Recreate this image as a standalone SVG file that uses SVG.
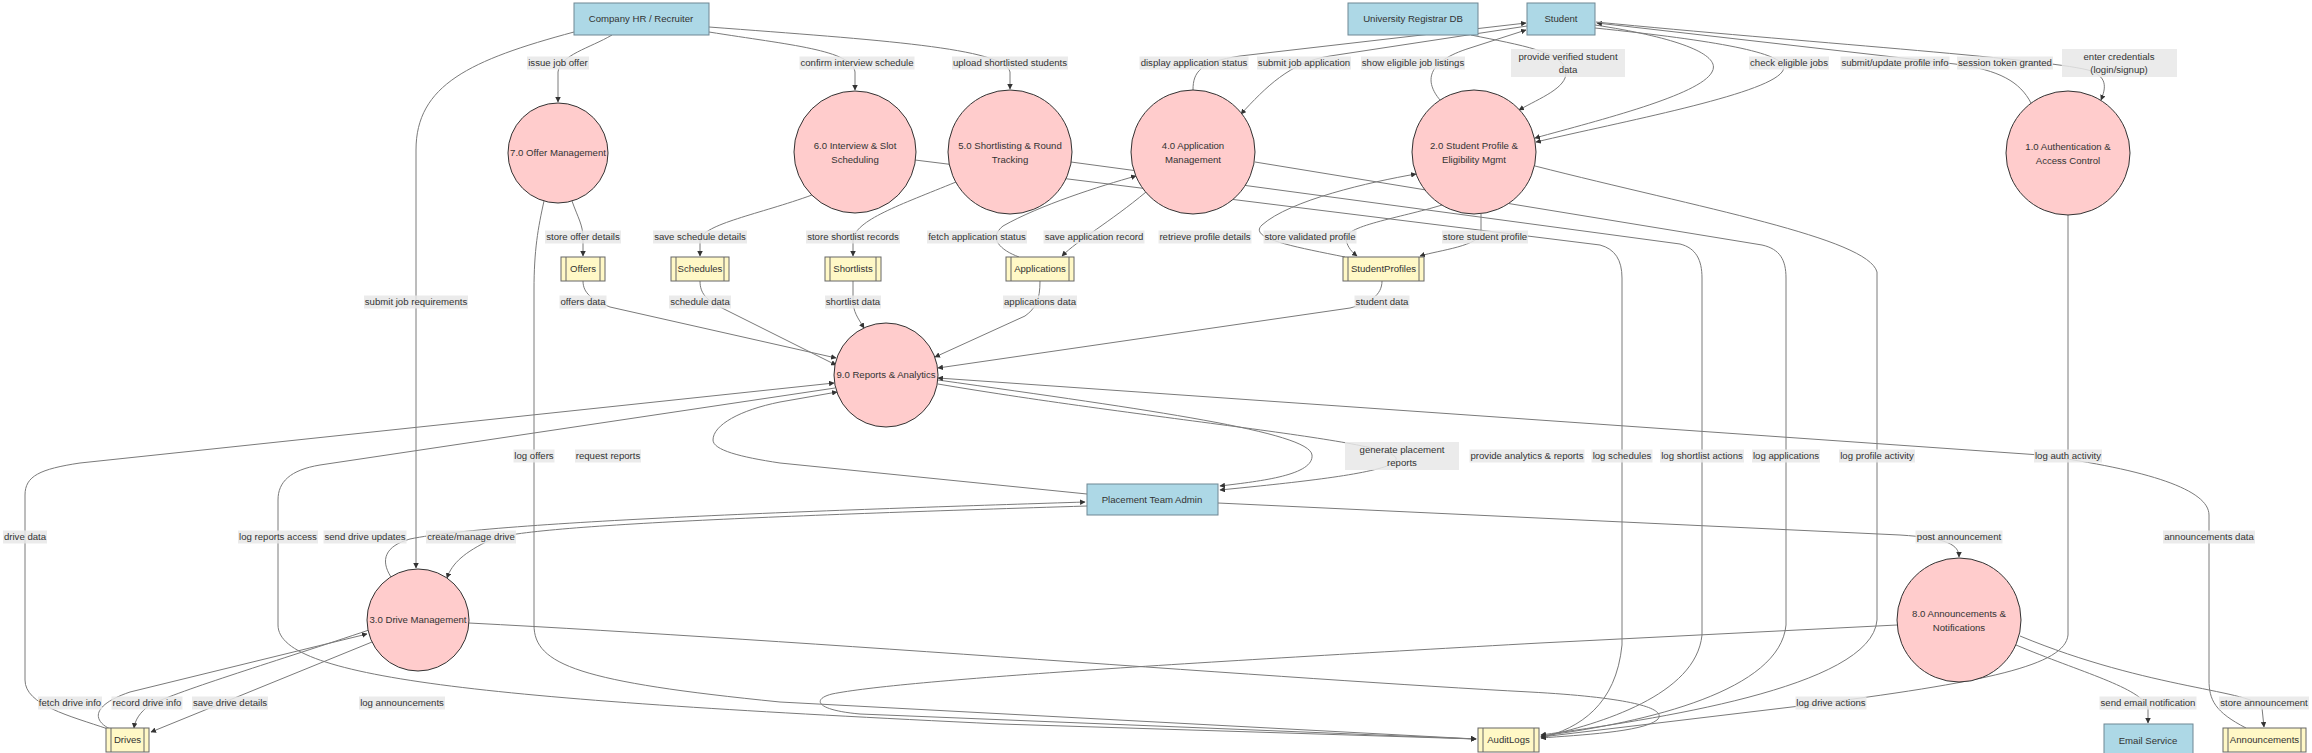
<svg xmlns="http://www.w3.org/2000/svg" width="2312" height="753" viewBox="0 0 2312 753">
<style>
.t{font-family:"Liberation Sans",Arial,sans-serif;font-size:9.6px;fill:#333;text-anchor:middle}
.ent rect{fill:#add8e6;stroke:#6f8794;stroke-width:1}
.proc circle{fill:#ffcccc;stroke:#333;stroke-width:1}
.store rect{fill:#fff8c6;stroke:#666;stroke-width:1}
.store line{stroke:#666;stroke-width:1}
.edges path{fill:none;stroke:#7a7a7a;stroke-width:1;marker-end:url(#arr)}
.lbl rect{fill:#e8e8e8;fill-opacity:0.85}
</style>
<defs>
<marker id="arr" viewBox="0 0 10 10" refX="9" refY="5" markerUnits="userSpaceOnUse" markerWidth="5.5" markerHeight="5.5" orient="auto"><path d="M0,0 L10,5 L0,10 z" fill="#333"/></marker>
</defs>
<rect width="2312" height="753" fill="#fff"/>
<g id="connectors" class="edges">
<path d="M612,35 C590,48 560,55 558,72 L558,102"/>
<path d="M574,32 C470,60 416,85 416,150 L416,568"/>
<path d="M709,32 C790,45 852,50 855,72 L855,90"/>
<path d="M709,27 C880,40 1005,48 1010,72 L1010,89"/>
<path d="M1193,90 C1193,72 1200,62 1240,56 L1526,23"/>
<path d="M1527,26 L1330,56 C1290,62 1265,88 1241,114"/>
<path d="M1440,100 C1425,82 1425,62 1470,48 L1526,30"/>
<path d="M1471,35 C1520,45 1565,52 1566,72 C1567,88 1540,98 1519,110"/>
<path d="M1595,25 C1680,38 1722,55 1712,72 C1700,95 1600,120 1535,138"/>
<path d="M1595,28 C1730,42 1795,55 1782,72 C1765,95 1620,122 1536,142"/>
<path d="M2031,103 C2020,82 2000,70 1955,64 L1597,23"/>
<path d="M1596,22 C1800,42 2040,58 2088,70 C2108,76 2106,88 2101,100"/>
<path d="M572,201 C578,218 583,225 583,238 L583,256"/>
<path d="M812,195 C760,214 703,224 700,240 L700,256"/>
<path d="M956,182 C900,205 855,220 853,240 L853,256"/>
<path d="M1019,257 C1000,250 988,238 1003,226 C1040,205 1100,186 1136,176"/>
<path d="M1146,192 C1110,222 1078,240 1062,256"/>
<path d="M1345,257 C1290,246 1248,238 1262,225 C1290,200 1370,182 1416,174"/>
<path d="M1442,205 C1400,218 1342,226 1346,240 C1348,248 1352,252 1357,256"/>
<path d="M1481,214 L1481,232 C1480,246 1440,250 1420,256"/>
<path d="M583,281 C583,293 592,300 610,307 L836,358"/>
<path d="M700,281 C700,293 706,300 722,308 L836,365"/>
<path d="M853,281 L853,300 C853,312 858,318 864,328"/>
<path d="M1040,281 C1040,300 1036,308 1025,316 L935,357"/>
<path d="M1382,281 C1382,295 1370,303 1350,308 L938,368"/>
<path d="M835,388 L320,465 C290,470 278,482 278,500 L278,625 C278,680 500,700 1000,724 L1476,739"/>
<path d="M108,729 C70,716 25,705 25,680 L25,495 C25,476 40,469 80,463 L834,383"/>
<path d="M1087,494 L780,463 C740,457 713,450 713,440 C713,425 740,410 780,402 L837,392"/>
<path d="M938,384 C1150,420 1390,440 1396,458 C1400,472 1300,482 1220,490"/>
<path d="M938,380 C1150,410 1310,432 1312,455 C1314,475 1262,481 1220,486"/>
<path d="M1087,506 C800,515 520,525 490,540 C465,552 452,563 447,578"/>
<path d="M391,577 C380,560 385,546 410,539 C500,520 900,508 1085,502"/>
<path d="M369,630 C280,660 180,690 150,705 C140,712 135,720 134,728"/>
<path d="M110,729 C92,720 92,705 130,692 L367,634"/>
<path d="M372,642 L151,732"/>
<path d="M544,201 C538,228 534,250 534,290 L534,625 C534,665 580,682 780,702 L1476,739"/>
<path d="M1897,625 L1540,643 C1200,662 900,680 832,694 C812,699 815,710 860,714 L1476,739"/>
<path d="M469,623 C800,640 1300,680 1530,692 C1640,698 1668,710 1657,720 C1642,732 1580,735 1541,738"/>
<path d="M2068,215 L2068,635 C2065,665 1990,682 1800,706 L1541,737"/>
<path d="M1535,166 C1700,208 1868,238 1877,272 L1877,620 C1872,688 1650,720 1541,735"/>
<path d="M1255,162 L1762,245 C1780,249 1786,260 1786,278 L1786,625 C1780,690 1650,722 1541,736"/>
<path d="M1071,162 L1680,244 C1696,248 1702,260 1702,278 L1702,635 C1696,695 1600,724 1541,737"/>
<path d="M915,160 L1600,245 C1615,249 1622,260 1622,278 L1622,645 C1616,705 1580,728 1541,738"/>
<path d="M1218,503 L1900,535 C1948,538 1959,545 1959,557"/>
<path d="M2016,645 C2080,672 2142,688 2148,708 L2148,723"/>
<path d="M2020,636 C2150,690 2255,690 2262,708 L2264,727"/>
<path d="M2246,728 C2215,712 2209,700 2209,680 L2209,515 C2209,490 2150,470 2040,455 L938,378"/>
</g>
<g id="edge-labels" class="lbl">
<rect x="527" y="56.5" width="62" height="13"/><text class="t" x="558" y="66.4">issue job offer</text>
<rect x="799.5" y="56.5" width="115" height="13"/><text class="t" x="857" y="66.4">confirm interview schedule</text>
<rect x="952" y="56.5" width="116" height="13"/><text class="t" x="1010" y="66.4">upload shortlisted students</text>
<rect x="1139.5" y="56.5" width="109" height="13"/><text class="t" x="1194" y="66.4">display application status</text>
<rect x="1257" y="56.5" width="94" height="13"/><text class="t" x="1304" y="66.4">submit job application</text>
<rect x="1361" y="56.5" width="104" height="13"/><text class="t" x="1413" y="66.4">show eligible job listings</text>
<rect x="1511" y="49" width="114" height="28"/><text class="t" x="1568" y="60.2">provide verified student</text><text class="t" x="1568" y="73.4">data</text>
<rect x="1749" y="56.5" width="80" height="13"/><text class="t" x="1789" y="66.4">check eligible jobs</text>
<rect x="1840.5" y="56.5" width="109" height="13"/><text class="t" x="1895" y="66.4">submit/update profile info</text>
<rect x="1957" y="56.5" width="96" height="13"/><text class="t" x="2005" y="66.4">session token granted</text>
<rect x="2062" y="49" width="115" height="28"/><text class="t" x="2119" y="60.2">enter credentials</text><text class="t" x="2119" y="73.4">(login/signup)</text>
<rect x="545" y="230.5" width="76" height="13"/><text class="t" x="583" y="240.4">store offer details</text>
<rect x="653" y="230.5" width="94" height="13"/><text class="t" x="700" y="240.4">save schedule details</text>
<rect x="806" y="230.5" width="94" height="13"/><text class="t" x="853" y="240.4">store shortlist records</text>
<rect x="927" y="230.5" width="100" height="13"/><text class="t" x="977" y="240.4">fetch application status</text>
<rect x="1043.5" y="230.5" width="101" height="13"/><text class="t" x="1094" y="240.4">save application record</text>
<rect x="1158.5" y="230.5" width="93" height="13"/><text class="t" x="1205" y="240.4">retrieve profile details</text>
<rect x="1263.5" y="230.5" width="93" height="13"/><text class="t" x="1310" y="240.4">store validated profile</text>
<rect x="1442" y="230.5" width="86" height="13"/><text class="t" x="1485" y="240.4">store student profile</text>
<rect x="364" y="295.5" width="104" height="13"/><text class="t" x="416" y="305.4">submit job requirements</text>
<rect x="559.5" y="295.5" width="47" height="13"/><text class="t" x="583" y="305.4">offers data</text>
<rect x="669" y="295.5" width="62" height="13"/><text class="t" x="700" y="305.4">schedule data</text>
<rect x="825" y="295.5" width="56" height="13"/><text class="t" x="853" y="305.4">shortlist data</text>
<rect x="1003" y="295.5" width="74" height="13"/><text class="t" x="1040" y="305.4">applications data</text>
<rect x="1354.5" y="295.5" width="55" height="13"/><text class="t" x="1382" y="305.4">student data</text>
<rect x="513.5" y="449.5" width="41" height="13"/><text class="t" x="534" y="459.4">log offers</text>
<rect x="575" y="449.5" width="66" height="13"/><text class="t" x="608" y="459.4">request reports</text>
<rect x="1345" y="442" width="114" height="28"/><text class="t" x="1402" y="452.8">generate placement</text><text class="t" x="1402" y="466">reports</text>
<rect x="1469.5" y="449.5" width="115" height="13"/><text class="t" x="1527" y="459.4">provide analytics &amp; reports</text>
<rect x="1591.5" y="449.5" width="61" height="13"/><text class="t" x="1622" y="459.4">log schedules</text>
<rect x="1660" y="449.5" width="84" height="13"/><text class="t" x="1702" y="459.4">log shortlist actions</text>
<rect x="1752" y="449.5" width="68" height="13"/><text class="t" x="1786" y="459.4">log applications</text>
<rect x="1839" y="449.5" width="76" height="13"/><text class="t" x="1877" y="459.4">log profile activity</text>
<rect x="2034" y="449.5" width="68" height="13"/><text class="t" x="2068" y="459.4">log auth activity</text>
<rect x="3" y="530.5" width="44" height="13"/><text class="t" x="25" y="540.4">drive data</text>
<rect x="238" y="530.5" width="80" height="13"/><text class="t" x="278" y="540.4">log reports access</text>
<rect x="323.5" y="530.5" width="83" height="13"/><text class="t" x="365" y="540.4">send drive updates</text>
<rect x="426" y="530.5" width="90" height="13"/><text class="t" x="471" y="540.4">create/manage drive</text>
<rect x="1915.5" y="530.5" width="87" height="13"/><text class="t" x="1959" y="540.4">post announcement</text>
<rect x="2163" y="530.5" width="92" height="13"/><text class="t" x="2209" y="540.4">announcements data</text>
<rect x="38" y="696.5" width="64" height="13"/><text class="t" x="70" y="706.4">fetch drive info</text>
<rect x="111.5" y="696.5" width="71" height="13"/><text class="t" x="147" y="706.4">record drive info</text>
<rect x="192" y="696.5" width="76" height="13"/><text class="t" x="230" y="706.4">save drive details</text>
<rect x="359" y="696.5" width="86" height="13"/><text class="t" x="402" y="706.4">log announcements</text>
<rect x="1795.5" y="696.5" width="71" height="13"/><text class="t" x="1831" y="706.4">log drive actions</text>
<rect x="2099.5" y="696.5" width="97" height="13"/><text class="t" x="2148" y="706.4">send email notification</text>
<rect x="2219" y="696.5" width="90" height="13"/><text class="t" x="2264" y="706.4">store announcement</text>
</g>
<g id="hr" class="ent"><rect x="574" y="3" width="135" height="32"/><text class="t" x="641" y="22.4">Company HR / Recruiter</text></g>
<g id="registrar" class="ent"><rect x="1348" y="3" width="130" height="32"/><text class="t" x="1413" y="22.4">University Registrar DB</text></g>
<g id="student" class="ent"><rect x="1527" y="3" width="68" height="32"/><text class="t" x="1561" y="22.4">Student</text></g>
<g id="admin" class="ent"><rect x="1087" y="484" width="131" height="31"/><text class="t" x="1152" y="503">Placement Team Admin</text></g>
<g id="email" class="ent"><rect x="2104" y="724" width="89" height="32"/><text class="t" x="2148" y="744">Email Service</text></g>
<g id="p1" class="proc"><circle cx="2068" cy="153" r="62"/><text class="t" x="2068" y="149.5">1.0 Authentication &amp;</text><text class="t" x="2068" y="163.5">Access Control</text></g>
<g id="p2" class="proc"><circle cx="1474" cy="152" r="62"/><text class="t" x="1474" y="148.5">2.0 Student Profile &amp;</text><text class="t" x="1474" y="162.5">Eligibility Mgmt</text></g>
<g id="p3" class="proc"><circle cx="418" cy="620" r="51"/><text class="t" x="418" y="623.4">3.0 Drive Management</text></g>
<g id="p4" class="proc"><circle cx="1193" cy="152" r="62"/><text class="t" x="1193" y="148.5">4.0 Application</text><text class="t" x="1193" y="162.5">Management</text></g>
<g id="p5" class="proc"><circle cx="1010" cy="152" r="62"/><text class="t" x="1010" y="148.5">5.0 Shortlisting &amp; Round</text><text class="t" x="1010" y="162.5">Tracking</text></g>
<g id="p6" class="proc"><circle cx="855" cy="152" r="61"/><text class="t" x="855" y="148.5">6.0 Interview &amp; Slot</text><text class="t" x="855" y="162.5">Scheduling</text></g>
<g id="p7" class="proc"><circle cx="558" cy="153" r="50"/><text class="t" x="558" y="156.4">7.0 Offer Management</text></g>
<g id="p8" class="proc"><circle cx="1959" cy="620" r="62"/><text class="t" x="1959" y="616.5">8.0 Announcements &amp;</text><text class="t" x="1959" y="630.5">Notifications</text></g>
<g id="p9" class="proc"><circle cx="886" cy="375" r="52"/><text class="t" x="886" y="378.4">9.0 Reports &amp; Analytics</text></g>
<g id="offers" class="store"><rect x="561" y="257" width="44" height="24"/><line x1="566" y1="257" x2="566" y2="281"/><line x1="600" y1="257" x2="600" y2="281"/><text class="t" x="583" y="272.4">Offers</text></g>
<g id="schedules" class="store"><rect x="671" y="257" width="58" height="24"/><line x1="676" y1="257" x2="676" y2="281"/><line x1="724" y1="257" x2="724" y2="281"/><text class="t" x="700" y="272.4">Schedules</text></g>
<g id="shortlists" class="store"><rect x="825" y="257" width="56" height="24"/><line x1="830" y1="257" x2="830" y2="281"/><line x1="876" y1="257" x2="876" y2="281"/><text class="t" x="853" y="272.4">Shortlists</text></g>
<g id="applications" class="store"><rect x="1006" y="257" width="68" height="24"/><line x1="1011" y1="257" x2="1011" y2="281"/><line x1="1069" y1="257" x2="1069" y2="281"/><text class="t" x="1040" y="272.4">Applications</text></g>
<g id="studentprofiles" class="store"><rect x="1343" y="257" width="81" height="24"/><line x1="1348" y1="257" x2="1348" y2="281"/><line x1="1419" y1="257" x2="1419" y2="281"/><text class="t" x="1383.5" y="272.4">StudentProfiles</text></g>
<g id="drives" class="store"><rect x="106" y="728" width="43" height="24"/><line x1="111" y1="728" x2="111" y2="752"/><line x1="144" y1="728" x2="144" y2="752"/><text class="t" x="127.5" y="743.4">Drives</text></g>
<g id="auditlogs" class="store"><rect x="1478" y="728" width="61" height="24"/><line x1="1483" y1="728" x2="1483" y2="752"/><line x1="1534" y1="728" x2="1534" y2="752"/><text class="t" x="1508.5" y="743.4">AuditLogs</text></g>
<g id="announcements" class="store"><rect x="2223" y="728" width="83" height="24"/><line x1="2228" y1="728" x2="2228" y2="752"/><line x1="2301" y1="728" x2="2301" y2="752"/><text class="t" x="2264.5" y="743.4">Announcements</text></g>
</svg>
